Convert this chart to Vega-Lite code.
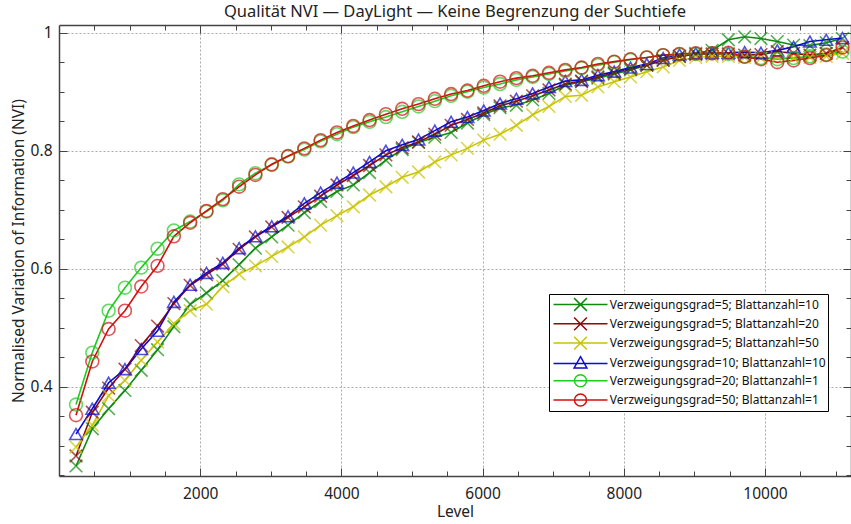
{
  "$schema": "https://vega.github.io/schema/vega-lite/v6.json",
  "width": 792,
  "height": 451,
  "autosize": {"type": "none"},
  "padding": {"left": 59, "top": 25, "right": 0, "bottom": 48},
  "background": "white",
  "title": {"text": "Qualität NVI — DayLight — Keine Begrenzung der Suchtiefe", "fontSize": 16.5, "font": "Noto Sans", "fontWeight": "normal", "color": "#222", "offset": 4, "anchor": "middle"},
  "config": {"view": {"stroke": null}, "font": "Noto Sans"},
  "resolve": {"axis": {"x": "independent", "y": "independent"}},
  "data": {"values": [
    {"x": 241, "a": 0.266, "b": 0.283, "c": 0.298, "d": 0.320, "e": 0.370, "f": 0.352},
    {"x": 472, "a": 0.329, "b": 0.357, "c": 0.335, "d": 0.363, "e": 0.458, "f": 0.443},
    {"x": 703, "a": 0.363, "b": 0.398, "c": 0.385, "d": 0.407, "e": 0.529, "f": 0.498},
    {"x": 934, "a": 0.394, "b": 0.430, "c": 0.411, "d": 0.430, "e": 0.568, "f": 0.529},
    {"x": 1165, "a": 0.428, "b": 0.470, "c": 0.445, "d": 0.464, "e": 0.602, "f": 0.570},
    {"x": 1396, "a": 0.463, "b": 0.503, "c": 0.476, "d": 0.495, "e": 0.634, "f": 0.605},
    {"x": 1627, "a": 0.502, "b": 0.541, "c": 0.507, "d": 0.544, "e": 0.665, "f": 0.655},
    {"x": 1858, "a": 0.540, "b": 0.572, "c": 0.529, "d": 0.573, "e": 0.680, "f": 0.678},
    {"x": 2089, "a": 0.559, "b": 0.590, "c": 0.540, "d": 0.593, "e": 0.697, "f": 0.698},
    {"x": 2320, "a": 0.580, "b": 0.608, "c": 0.570, "d": 0.610, "e": 0.716, "f": 0.718},
    {"x": 2551, "a": 0.607, "b": 0.633, "c": 0.591, "d": 0.635, "e": 0.743, "f": 0.739},
    {"x": 2782, "a": 0.635, "b": 0.654, "c": 0.605, "d": 0.655, "e": 0.762, "f": 0.759},
    {"x": 3013, "a": 0.654, "b": 0.671, "c": 0.621, "d": 0.672, "e": 0.776, "f": 0.777},
    {"x": 3244, "a": 0.674, "b": 0.687, "c": 0.637, "d": 0.689, "e": 0.790, "f": 0.791},
    {"x": 3475, "a": 0.695, "b": 0.705, "c": 0.654, "d": 0.711, "e": 0.802, "f": 0.804},
    {"x": 3706, "a": 0.714, "b": 0.723, "c": 0.674, "d": 0.729, "e": 0.816, "f": 0.818},
    {"x": 3937, "a": 0.731, "b": 0.742, "c": 0.690, "d": 0.746, "e": 0.828, "f": 0.831},
    {"x": 4168, "a": 0.742, "b": 0.758, "c": 0.705, "d": 0.763, "e": 0.840, "f": 0.842},
    {"x": 4399, "a": 0.763, "b": 0.775, "c": 0.725, "d": 0.781, "e": 0.849, "f": 0.852},
    {"x": 4630, "a": 0.784, "b": 0.793, "c": 0.739, "d": 0.800, "e": 0.857, "f": 0.862},
    {"x": 4861, "a": 0.802, "b": 0.805, "c": 0.755, "d": 0.810, "e": 0.866, "f": 0.871},
    {"x": 5092, "a": 0.814, "b": 0.815, "c": 0.764, "d": 0.819, "e": 0.875, "f": 0.879},
    {"x": 5323, "a": 0.823, "b": 0.828, "c": 0.781, "d": 0.834, "e": 0.884, "f": 0.888},
    {"x": 5554, "a": 0.831, "b": 0.843, "c": 0.793, "d": 0.849, "e": 0.893, "f": 0.896},
    {"x": 5785, "a": 0.847, "b": 0.853, "c": 0.804, "d": 0.857, "e": 0.900, "f": 0.902},
    {"x": 6016, "a": 0.861, "b": 0.864, "c": 0.818, "d": 0.868, "e": 0.907, "f": 0.910},
    {"x": 6247, "a": 0.873, "b": 0.876, "c": 0.828, "d": 0.880, "e": 0.913, "f": 0.917},
    {"x": 6478, "a": 0.877, "b": 0.884, "c": 0.843, "d": 0.888, "e": 0.920, "f": 0.923},
    {"x": 6709, "a": 0.886, "b": 0.893, "c": 0.861, "d": 0.897, "e": 0.925, "f": 0.927},
    {"x": 6940, "a": 0.897, "b": 0.903, "c": 0.875, "d": 0.908, "e": 0.930, "f": 0.932},
    {"x": 7171, "a": 0.911, "b": 0.913, "c": 0.892, "d": 0.918, "e": 0.935, "f": 0.937},
    {"x": 7402, "a": 0.917, "b": 0.918, "c": 0.894, "d": 0.920, "e": 0.940, "f": 0.941},
    {"x": 7633, "a": 0.923, "b": 0.925, "c": 0.908, "d": 0.928, "e": 0.945, "f": 0.947},
    {"x": 7864, "a": 0.930, "b": 0.932, "c": 0.917, "d": 0.934, "e": 0.950, "f": 0.951},
    {"x": 8095, "a": 0.937, "b": 0.939, "c": 0.925, "d": 0.941, "e": 0.954, "f": 0.955},
    {"x": 8326, "a": 0.945, "b": 0.945, "c": 0.934, "d": 0.947, "e": 0.958, "f": 0.958},
    {"x": 8557, "a": 0.954, "b": 0.953, "c": 0.942, "d": 0.957, "e": 0.962, "f": 0.962},
    {"x": 8788, "a": 0.960, "b": 0.960, "c": 0.953, "d": 0.963, "e": 0.963, "f": 0.964},
    {"x": 9019, "a": 0.965, "b": 0.963, "c": 0.958, "d": 0.965, "e": 0.964, "f": 0.965},
    {"x": 9250, "a": 0.970, "b": 0.964, "c": 0.960, "d": 0.966, "e": 0.965, "f": 0.965},
    {"x": 9481, "a": 0.988, "b": 0.964, "c": 0.960, "d": 0.966, "e": 0.964, "f": 0.966},
    {"x": 9712, "a": 0.993, "b": 0.962, "c": 0.958, "d": 0.967, "e": 0.960, "f": 0.959},
    {"x": 9943, "a": 0.990, "b": 0.963, "c": 0.957, "d": 0.966, "e": 0.957, "f": 0.955},
    {"x": 10174, "a": 0.985, "b": 0.968, "c": 0.958, "d": 0.970, "e": 0.955, "f": 0.950},
    {"x": 10405, "a": 0.979, "b": 0.965, "c": 0.957, "d": 0.976, "e": 0.957, "f": 0.953},
    {"x": 10636, "a": 0.978, "b": 0.962, "c": 0.958, "d": 0.985, "e": 0.960, "f": 0.957},
    {"x": 10867, "a": 0.983, "b": 0.965, "c": 0.960, "d": 0.988, "e": 0.963, "f": 0.962},
    {"x": 11098, "a": 0.990, "b": 0.975, "c": 0.965, "d": 0.991, "e": 0.968, "f": 0.975}
  ]},
  "transform": [{"fold": ["a", "b", "c", "d", "e", "f"], "as": ["s", "y"]}],
  "layer": [
    {
      "mark": {"type": "line", "strokeWidth": 1.6, "clip": true},
      "encoding": {
        "x": {"field": "x", "type": "quantitative",
          "scale": {"domain": [0, 11218], "nice": false, "zero": false},
          "axis": {"orient": "bottom", "values": [2000, 4000, 6000, 8000, 10000], "format": "d",
            "labelFontSize": 15.5, "labelColor": "#222", "labelPadding": 18, "labelFlush": false,
            "tickSize": -8, "tickColor": "#444", "tickWidth": 1,
            "domainColor": "#444", "domainWidth": 1.5,
            "grid": true, "gridDash": [2, 2], "gridColor": "#aaa", "gridWidth": 1,
            "title": "Level", "titleFontSize": 15.5, "titleFontWeight": "normal", "titleColor": "#222", "titlePadding": 3}
        },
        "y": {"field": "y", "type": "quantitative",
          "scale": {"domain": [0.249, 1.013], "nice": false, "zero": false},
          "axis": {"orient": "left", "values": [0.4, 0.6, 0.8, 1], "format": ".1~f",
            "labelFontSize": 15.5, "labelColor": "#222", "labelPadding": 15, "labelFlush": false,
            "tickSize": -8, "tickColor": "#444", "tickWidth": 1,
            "domainColor": "#444", "domainWidth": 1.5,
            "grid": true, "gridDash": [2, 2], "gridColor": "#aaa", "gridWidth": 1,
            "title": "Normalised Variation of Information (NVI)", "titleFontSize": 15.5, "titleFontWeight": "normal", "titleColor": "#222", "titlePadding": 4}
        },
        "color": {"field": "s", "type": "nominal",
          "scale": {"domain": ["a", "b", "c", "d", "e", "f"], "range": ["#0f8a0f", "#8a0b0b", "#c9c400", "#0a0ad2", "#1fcc1f", "#d40f0f"]},
          "legend": {"orient": "none", "legendX": 490, "legendY": 269, "title": null,
            "fillColor": "white", "strokeColor": "#000", "padding": 2, "cornerRadius": 0,
            "rowPadding": 0.3, "labelFontSize": 12, "labelColor": "#111", "labelFont": "Noto Sans", "labelLimit": 400,
            "symbolSize": 225, "symbolStrokeWidth": 1.5, "symbolOffset": 21, "labelOffset": 20.7, "symbolFillColor": "transparent",
            "labelExpr": "datum.value == 'a' ? 'Verzweigungsgrad=5; Blattanzahl=10' : datum.value == 'b' ? 'Verzweigungsgrad=5; Blattanzahl=20' : datum.value == 'c' ? 'Verzweigungsgrad=5; Blattanzahl=50' : datum.value == 'd' ? 'Verzweigungsgrad=10; Blattanzahl=10' : datum.value == 'e' ? 'Verzweigungsgrad=20; Blattanzahl=1' : 'Verzweigungsgrad=50; Blattanzahl=1'"
          }
        }
      }
    },
    {
      "transform": [{"filter": "datum.s == 'a' || datum.s == 'b' || datum.s == 'c'"}],
      "mark": {"type": "point", "filled": false, "strokeWidth": 1.6, "clip": true, "shape": "M-1,-1L1,1M-1,1L1,-1", "size": 160},
      "encoding": {
        "x": {"field": "x", "type": "quantitative",
          "axis": {"orient": "bottom", "values": [500, 1000, 1500, 2500, 3000, 3500, 4500, 5000, 5500, 6500, 7000, 7500, 8500, 9000, 9500, 10500, 11000],
            "labels": false, "grid": false, "domain": false, "title": null, "tickSize": -5, "tickColor": "#444", "tickWidth": 1}
        },
        "y": {"field": "y", "type": "quantitative",
          "axis": {"orient": "left", "values": [0.25, 0.3, 0.35, 0.45, 0.5, 0.55, 0.65, 0.7, 0.75, 0.85, 0.9, 0.95],
            "labels": false, "grid": false, "domain": false, "title": null, "tickSize": -5, "tickColor": "#444", "tickWidth": 1}
        },
        "color": {"field": "s", "type": "nominal", "legend": null}
      }
    },
    {
      "transform": [{"filter": "datum.s == 'd'"}],
      "mark": {"type": "point", "filled": false, "strokeWidth": 1.6, "clip": true, "shape": "triangle-up", "size": 160},
      "encoding": {
        "x": {"field": "x", "type": "quantitative", "axis": null},
        "y": {"field": "y", "type": "quantitative", "axis": null},
        "color": {"field": "s", "type": "nominal", "legend": null}
      }
    },
    {
      "transform": [{"filter": "datum.s == 'e' || datum.s == 'f'"}],
      "mark": {"type": "point", "filled": false, "strokeWidth": 1.6, "clip": true, "shape": "circle", "size": 165},
      "encoding": {
        "x": {"field": "x", "type": "quantitative", "axis": null},
        "y": {"field": "y", "type": "quantitative", "axis": null},
        "color": {"field": "s", "type": "nominal", "legend": null}
      }
    },
    {
      "mark": {"type": "point", "opacity": 0},
      "encoding": {
        "x": {"field": "x", "type": "quantitative",
          "axis": {"orient": "top", "values": [2000, 4000, 6000, 8000, 10000],
            "labels": false, "grid": false, "title": null, "tickSize": -8, "tickColor": "#444", "tickWidth": 1, "domainColor": "#444", "domainWidth": 1.5}
        },
        "y": {"field": "y", "type": "quantitative",
          "axis": {"orient": "right", "values": [0.4, 0.6, 0.8, 1],
            "labels": false, "grid": false, "title": null, "tickSize": -8, "tickColor": "#444", "tickWidth": 1, "domainColor": "#444", "domainWidth": 1.5}
        }
      }
    },
    {
      "mark": {"type": "point", "opacity": 0},
      "encoding": {
        "x": {"field": "x", "type": "quantitative",
          "axis": {"orient": "top", "values": [500, 1000, 1500, 2500, 3000, 3500, 4500, 5000, 5500, 6500, 7000, 7500, 8500, 9000, 9500, 10500, 11000],
            "labels": false, "grid": false, "domain": false, "title": null, "tickSize": -5, "tickColor": "#444", "tickWidth": 1}
        },
        "y": {"field": "y", "type": "quantitative",
          "axis": {"orient": "right", "values": [0.25, 0.3, 0.35, 0.45, 0.5, 0.55, 0.65, 0.7, 0.75, 0.85, 0.9, 0.95],
            "labels": false, "grid": false, "domain": false, "title": null, "tickSize": -5, "tickColor": "#444", "tickWidth": 1}
        }
      }
    },
    {
      "transform": [{"filter": "false"}],
      "mark": {"type": "point", "filled": false},
      "encoding": {
        "x": {"field": "x", "type": "quantitative", "axis": null},
        "y": {"field": "y", "type": "quantitative", "axis": null},
        "color": {"field": "s", "type": "nominal", "legend": null},
        "shape": {"field": "s", "type": "nominal",
          "scale": {"domain": ["a", "b", "c", "d", "e", "f"], "range": [
            "M-3.6,0H3.6M-0.85,-0.85L0.85,0.85M-0.85,0.85L0.85,-0.85",
            "M-3.6,0H3.6M-0.85,-0.85L0.85,0.85M-0.85,0.85L0.85,-0.85",
            "M-3.6,0H3.6M-0.85,-0.85L0.85,0.85M-0.85,0.85L0.85,-0.85",
            "M-3.6,0H3.6M0,-0.9L0.85,0.6L-0.85,0.6Z",
            "M-3.6,0H3.6M0.8,0A0.8,0.8 0 1,1 -0.8,0A0.8,0.8 0 1,1 0.8,0",
            "M-3.6,0H3.6M0.8,0A0.8,0.8 0 1,1 -0.8,0A0.8,0.8 0 1,1 0.8,0"]},
          "legend": null}
      }
    }
  ]
}
